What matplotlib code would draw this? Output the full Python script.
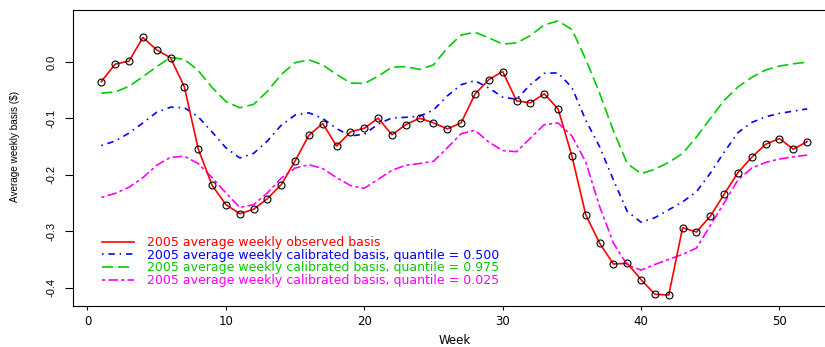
import matplotlib
matplotlib.use("Agg")
import matplotlib.pyplot as plt
import numpy as np

weeks = list(range(1, 53))

observed = [-0.0345, -0.0036, 0.0018, 0.0437, 0.0218, 0.0076, -0.0439, -0.154,
            -0.2185, -0.2529, -0.2689, -0.2611, -0.2422, -0.2174, -0.1753, -0.1297,
            -0.109, -0.149, -0.1238, -0.1173, -0.0995, -0.129, -0.1108, -0.0995,
            -0.1078, -0.1185, -0.1078, -0.0568, -0.0309, -0.0167, -0.0687, -0.0723,
            -0.0563, -0.0829, -0.1664, -0.2707, -0.321, -0.3583, -0.357, -0.386,
            -0.412, -0.4133, -0.2938, -0.3014, -0.2735, -0.2345, -0.196, -0.1688,
            -0.1457, -0.1357, -0.1545, -0.141]

q500 = [-0.148, -0.140, -0.126, -0.108, -0.089, -0.080, -0.081, -0.097,
        -0.124, -0.152, -0.170, -0.162, -0.140, -0.112, -0.094, -0.090,
        -0.100, -0.118, -0.131, -0.128, -0.110, -0.099, -0.098, -0.096,
        -0.085, -0.060, -0.040, -0.033, -0.046, -0.062, -0.066, -0.040,
        -0.020, -0.019, -0.045, -0.103, -0.150, -0.209, -0.265, -0.284,
        -0.276, -0.262, -0.248, -0.230, -0.197, -0.160, -0.125, -0.107,
        -0.097, -0.091, -0.087, -0.083]

q975 = [-0.055, -0.053, -0.043, -0.026, -0.008, 0.008, 0.005, -0.015,
        -0.045, -0.070, -0.081, -0.075, -0.052, -0.022, -0.001, 0.004,
        -0.005, -0.022, -0.037, -0.038, -0.025, -0.009, -0.008, -0.013,
        -0.005, 0.025, 0.048, 0.053, 0.043, 0.032, 0.034, 0.047,
        0.066, 0.073, 0.058, 0.005, -0.055, -0.122, -0.180, -0.198,
        -0.190, -0.178, -0.162, -0.133, -0.100, -0.068, -0.044, -0.027,
        -0.014, -0.007, -0.003, 0.000]

q025 = [-0.240, -0.233, -0.222, -0.205, -0.183, -0.169, -0.167, -0.180,
        -0.205, -0.232, -0.258, -0.253, -0.232, -0.206, -0.188, -0.182,
        -0.189, -0.205, -0.219, -0.224, -0.208, -0.192, -0.183, -0.180,
        -0.176, -0.152, -0.127, -0.121, -0.142, -0.157, -0.159, -0.135,
        -0.111, -0.108, -0.131, -0.177, -0.256, -0.321, -0.360, -0.369,
        -0.359, -0.350, -0.341, -0.330, -0.290, -0.250, -0.209, -0.188,
        -0.178, -0.172, -0.168, -0.165]

labels = ["2005 average weekly observed basis",
          "2005 average weekly calibrated basis, quantile = 0.500",
          "2005 average weekly calibrated basis, quantile = 0.975",
          "2005 average weekly calibrated basis, quantile = 0.025"]
colors = ["#FF0000", "#0000FF", "#00CD00", "#FF00FF"]

xticks = [0, 10, 20, 30, 40, 50]
yticks = [-0.4, -0.3, -0.2, -0.1, 0.0]

plt.rcParams['lines.scale_dashes'] = False
W, H = 825, 347
fig = plt.figure(figsize=(W / 100, H / 100), dpi=100)
left, right, top, bottom = 73.1, 835.4, 10, 306
ax = fig.add_axes([left / W, 1 - bottom / H, (right - left) / W, (bottom - top) / H])

u = 1.15  # dash unit in points
lw = 1.2
l_obs, = ax.plot(weeks, observed, color=colors[0], lw=lw, ls='-', zorder=5)
ax.plot(weeks, observed, ls='none', marker='o', ms=5, mfc='none', mec='black',
        mew=0.8, zorder=6)
l_b, = ax.plot(weeks, q500, color=colors[1], lw=lw, ls=(0, (1 * u, 3 * u, 4 * u, 3 * u)))
l_g, = ax.plot(weeks, q975, color=colors[2], lw=lw, ls=(0, (7 * u, 3 * u)))
l_m, = ax.plot(weeks, q025, color=colors[3], lw=lw, ls=(0, (2 * u, 2 * u, 6 * u, 2 * u)))

ax.margins(x=0.04, y=0.04)

ax.set_xticks(xticks)
ax.set_xticklabels([str(t) for t in xticks], family='DejaVu Sans', fontsize=8.5)
ax.set_yticks(yticks)
ax.set_yticklabels(["%.1f" % t for t in yticks], family='Liberation Sans', fontsize=8,
                   rotation=90, va='center', ha='right')
ax.tick_params(axis='x', length=2.9, width=0.8, pad=3.5)
ax.tick_params(axis='y', length=5.8, width=0.8, pad=6)

for s in ax.spines.values():
    s.set_linewidth(0.8)
    s.set_color('black')
ax.spines['right'].set_visible(False)

ax.set_xlabel("Week", family='DejaVu Sans', fontsize=8.5)
ax.xaxis.set_label_coords(0.5, (bottom - 340) / (bottom - top))
ax.xaxis.label.set_va('center')
ax.set_ylabel("Average weekly basis ($)", family='Liberation Sans', fontsize=7.2)
ax.yaxis.set_label_coords((15 - left) / (right - left), (bottom - 146.7) / (bottom - top))
ax.yaxis.label.set_va('center')

leg = ax.legend([l_obs, l_b, l_g, l_m], labels, loc='upper left',
                bbox_to_anchor=((101.7 - left) / (right - left), (bottom - 236) / (bottom - top)),
                frameon=False, prop={'family': 'DejaVu Sans', 'size': 9},
                handlelength=2.55, handletextpad=1.07, labelspacing=-0.03,
                borderpad=0, borderaxespad=0)
for t, c in zip(leg.get_texts(), colors):
    t.set_color(c)

fig.savefig("out.png", dpi=100)
